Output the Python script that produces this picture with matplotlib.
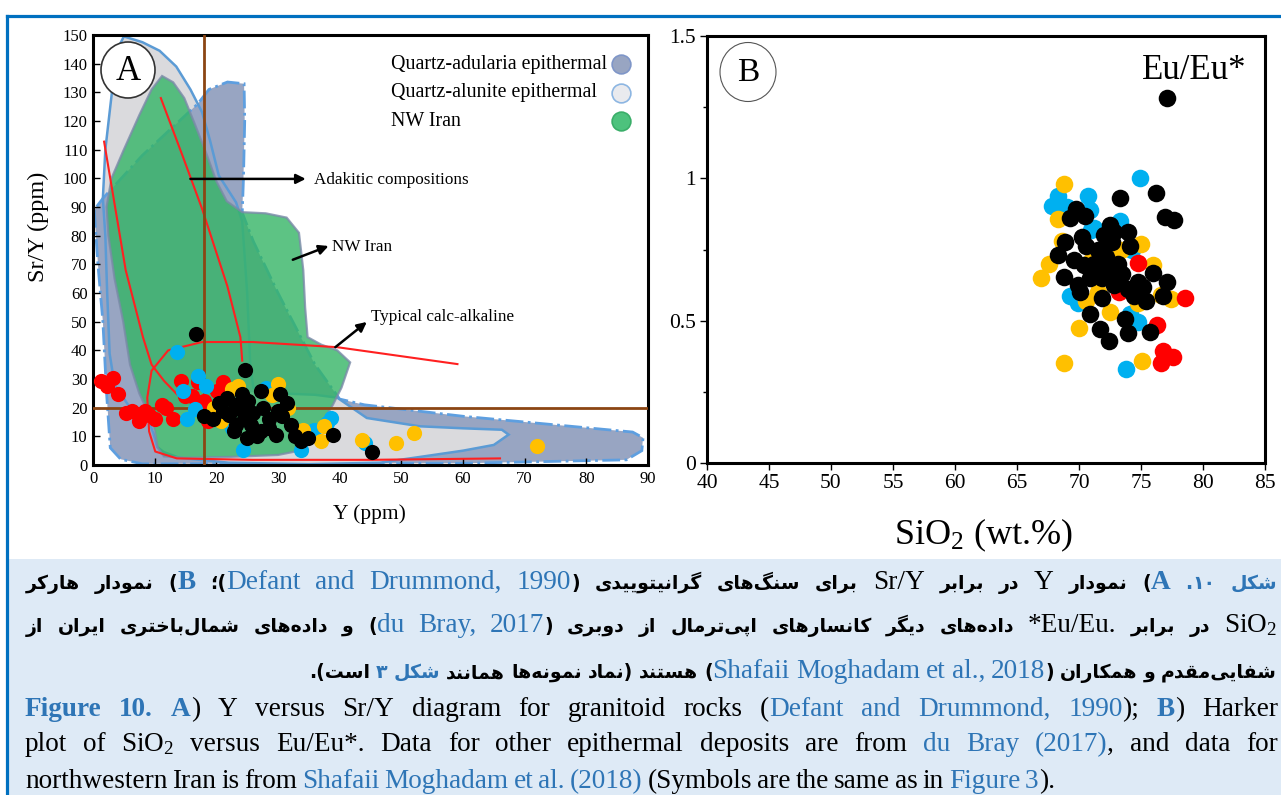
import matplotlib
matplotlib.use('Agg')
import matplotlib.pyplot as plt
from matplotlib.lines import Line2D
from matplotlib.patches import Rectangle, Ellipse
from matplotlib.ticker import MultipleLocator, FuncFormatter

W, H = 1281, 795
SERIF = 'Liberation Serif'
plt.rcParams['mathtext.fontset'] = 'custom'
plt.rcParams['mathtext.rm'] = SERIF
plt.rcParams['mathtext.it'] = SERIF + ':italic'
plt.rcParams['mathtext.bf'] = SERIF + ':bold'

# ---------------- panel A data (Y ppm, Sr/Y) ----------------
adularia_x = [0.2, 0.8, 1.6, 2.2, 2.8, 4.5, 8, 30, 60, 86.5, 89, 89.2, 87.5, 80, 70, 60, 50, 44, 40,
              36, 30, 26, 24.2, 24.4, 24.6, 24.5, 21.8, 18.8, 17, 8, 1.6]
adularia_y = [89, 70, 50, 25, 6, 2, 0.4, 0.5, 0.6, 1.8, 5, 9.5, 11.5, 13, 15, 17, 19.5, 21, 23,
              35, 60, 78, 88, 100, 120, 133, 133.6, 131, 126, 108, 93]
alunite_x = [5, 8, 10.8, 13.5, 15.8, 17.7, 19, 20.4, 23.2, 24.2, 25, 25.5, 26, 30, 36, 39.6, 44.4, 53, 60,
             66.3, 67.4, 65, 60, 53.3, 46.5, 35, 22, 14, 11.5, 10.4, 9.8, 9, 6, 3.5, 2.7, 2.3, 2.0, 1.6,
             2.0, 2.8, 3.5, 4.2]
alunite_y = [149.5, 147.5, 144.5, 139, 131, 123, 113, 101, 91.6, 85, 60, 35, 27, 25, 24.5, 23.5, 16.4, 13.5,
             12.8, 12.3, 10.6, 7, 5, 2.9, 0.8, 0.3, 0.8, 2.5, 4.5, 6.3, 11, 15.7, 20, 28, 38.8, 60, 80, 93,
             110, 125, 138, 146]
alunite_low_x = [9, 11, 15, 20, 26, 30, 36, 39.6, 44.4, 53, 60, 66.3, 67.4, 65, 60, 53.3, 46.5, 35, 22,
                 14, 11.5, 10.4, 9.8]
alunite_low_y = [15.7, 18, 20.5, 23, 25.5, 25, 24.5, 23.5, 16.4, 13.5, 12.8, 12.3, 10.6, 7, 5, 2.9, 0.8,
                 0.3, 0.8, 2.5, 4.5, 6.3, 11]
nwiran_x = [11.2, 13, 14.8, 16.5, 18.5, 20, 21.7, 24.2, 28, 31.4, 33.4, 34.1, 34.4, 34.8, 37, 39.6, 41.7,
            40.3, 38.9, 36.9, 34.5, 32.8, 30, 22, 15, 11.5, 10.5, 10, 9, 7.5, 6, 4.9, 3.5, 2.5, 2.2, 3,
            5, 7.5, 9.5]
nwiran_y = [135.7, 133.5, 128, 119, 108, 99, 92, 88.2, 87.8, 86.3, 81, 68, 55, 44.6, 42, 40, 35.8,
            27, 21, 14, 8.5, 4.7, 3.5, 2.8, 2.5, 3, 6, 12, 18, 25, 35, 50, 65, 80, 90, 100,
            110, 122, 131]

adakite_left_x = [1.8, 5.3, 8.1, 9.5, 11.5, 13.6, 15.5]
adakite_left_y = [112.8, 68, 44.6, 35, 29.4, 24.7, 22]
adakite_right_x = [11, 14.5, 17.7, 21.8, 23.9, 24.2]
adakite_right_y = [128, 108, 89.3, 62.3, 44.6, 36.4]
calc_x = [59.1, 39.6, 25.9, 17.7, 12.2, 9.5, 8.8, 9.1, 10.1, 13.6, 25.9, 45, 66]
calc_y = [35.2, 41.1, 42.9, 42.9, 40, 32.9, 23.5, 11.7, 4.7, 2.3, 1.8, 1.8, 2.3]

a_red_x = [1.23, 2.26, 3.29, 4.11, 6.37, 7.4, 8.43, 10.1, 11.2, 11.9, 12.9, 14.3, 14.9, 16.0, 17.0,
           18.0, 18.7, 21.1, 20.1, 5.3, 9.0]
a_red_y = [29.4, 27.6, 30.5, 24.9, 18.8, 15.3, 18.8, 15.9, 21.1, 20.0, 15.9, 29.4, 24.1, 24.1, 28.8,
           22.3, 15.3, 28.8, 25.8, 18.2, 17.5]
a_cyan_x = [13.7, 17.1, 18.4, 14.6, 15.3, 16.5, 24.4, 33.8, 35.8, 38.6, 44.1, 28.0, 22.5, 37.9]
a_cyan_y = [39.4, 31.1, 27.6, 25.8, 15.9, 19.4, 5.3, 5.3, 12.3, 16.4, 7.6, 27.0, 13.0, 14.5]
a_yel_x = [23.5, 30.0, 20.8, 37.4, 36.9, 43.6, 49.2, 52.0, 72.0, 34.1, 31.7, 19.7, 22.5, 29.0]
a_yel_y = [27.6, 28.2, 15.3, 13.5, 8.2, 8.8, 7.6, 11.2, 6.5, 12.3, 20.0, 20.0, 26.5, 24.5]
a_blk_x = [16.7, 24.7, 18.0, 19.4, 20.4, 21.8, 23.2, 24.2, 25.2, 22.1, 23.2, 24.5, 22.8, 24.9, 26.6,
           25.9, 27.3, 27.6, 28.6, 29.7, 30.4, 31.4, 30.7, 32.1, 32.8, 33.8, 34.8, 38.9, 45.3, 27.3,
           21.1, 23.9, 25.6, 28.6, 30.0]
a_blk_y = [45.8, 33.1, 17.0, 15.9, 21.7, 23.5, 21.1, 24.7, 22.3, 17.6, 14.1, 15.9, 11.7, 9.4, 10.0,
           18.2, 25.8, 20.0, 15.9, 10.6, 24.7, 21.7, 17.0, 14.1, 10.0, 8.2, 9.4, 10.6, 4.7, 11.7,
           18.8, 19.4, 14.1, 12.9, 18.8]

# ---------------- panel B data (SiO2, Eu/Eu*) ----------------
b_cyan_x = [74.95, 68.3, 67.82, 70.71, 70.87, 71.19, 73.28, 69.27, 69.9, 73.76, 74.72, 74.08, 74.24, 69.0, 71.0]
b_cyan_y = [1.0, 0.9375, 0.9025, 0.9375, 0.8875, 0.825, 0.85, 0.5875, 0.5625, 0.331, 0.494, 0.525, 0.75, 0.9, 0.82]
b_yel_x = [68.79, 68.3, 68.63, 67.6, 66.96, 75.04, 76.0, 77.45, 70.0, 72.48, 68.82, 75.05, 74.72, 71.5,
           73.4, 71.0, 76.6, 70.6]
b_yel_y = [0.981, 0.856, 0.781, 0.7, 0.65, 0.769, 0.694, 0.575, 0.475, 0.531, 0.35, 0.36, 0.5625, 0.6,
           0.75, 0.71, 0.59, 0.57]
b_red_x = [74.72, 78.51, 76.33, 76.81, 77.61, 76.65, 73.2]
b_red_y = [0.7025, 0.581, 0.485, 0.394, 0.371, 0.35, 0.6]
b_blk_x = [77.07, 73.34, 76.23, 76.97, 77.68, 69.27, 69.75, 70.49, 72.54, 73.92, 68.88, 70.23, 70.55,
           68.3, 74.08, 68.78, 69.59, 70.39, 69.91, 70.87, 71.51, 72.15, 72.63, 73.11, 73.43, 71.83,
           72.31, 72.8, 73.92, 74.72, 75.2, 76.0, 77.13, 76.81, 75.37, 74.4, 71.83, 70.87, 71.67,
           72.41, 73.7, 73.92, 75.75, 70.07, 71.2, 72.0, 72.8]
b_blk_y = [1.281, 0.931, 0.948, 0.8625, 0.8525, 0.86, 0.894, 0.869, 0.8375, 0.8125, 0.775, 0.794,
           0.7625, 0.731, 0.7625, 0.6525, 0.7125, 0.694, 0.625, 0.65, 0.75, 0.725, 0.775, 0.7, 0.6625,
           0.65, 0.675, 0.625, 0.6125, 0.6375, 0.619, 0.669, 0.6375, 0.5875, 0.569, 0.5875, 0.581,
           0.525, 0.469, 0.4275, 0.506, 0.456, 0.459, 0.6, 0.7, 0.8, 0.8125]

legend_labels = ['Quartz-adularia epithermal', 'Quartz-alunite epithermal', 'NW Iran']
legend_face = ['#98a5c2', '#e9eaee', '#4dc27d']
legend_edge = ['#7f96c8', '#8db6e2', '#3aae69']

RED, CYAN, YEL, BLK = '#ff0000', '#00b0f0', '#ffc000', '#000000'
BLUE = '#2e75b6'
BROWN = '#8b4513'


def fpos(x, y):
    return x / W, 1 - y / H


fig = plt.figure(figsize=(W / 100, H / 100), dpi=100)

# caption background and blue frame lines
fig.add_artist(Rectangle(fpos(8, 795), (W - 8) / W, (795 - 559) / H, transform=fig.transFigure,
                         facecolor='#deeaf6', edgecolor='none', zorder=0))
fig.add_artist(Line2D([7 / W, 1], [1 - 16 / H] * 2, transform=fig.transFigure, color='#0070c0', lw=2.3))
fig.add_artist(Line2D([7 / W] * 2, [0, 1 - 16 / H], transform=fig.transFigure, color='#0070c0', lw=2.3))

# ---------------- panel A ----------------
ax = fig.add_axes([93 / W, 1 - 465 / H, 555 / W, 430 / H])
ax.fill(alunite_x, alunite_y, facecolor='#dadadd', edgecolor='none', zorder=1)
ax.fill(adularia_x, adularia_y, facecolor='#98a5c2', edgecolor='#5e9fe0', lw=2, ls='-.', zorder=1.5)
ax.fill(alunite_low_x, alunite_low_y, facecolor='#dadadd', edgecolor='none', zorder=2)
ax.fill(alunite_x, alunite_y, facecolor='none', edgecolor='#5b9bd5', lw=1.8, zorder=2.5)
ax.fill(nwiran_x, nwiran_y, facecolor='#34b566', alpha=0.8, edgecolor='#7a8aa8', lw=1.6, zorder=3)
ax.plot(adakite_left_x, adakite_left_y, color='#ff2020', lw=1.5, zorder=4)
ax.plot(adakite_right_x, adakite_right_y, color='#ff2020', lw=1.5, zorder=4)
ax.plot(calc_x, calc_y, color='#ff2020', lw=1.5, zorder=4)
ax.axvline(18, color=BROWN, lw=2, zorder=4.5)
ax.axhline(20, color=BROWN, lw=2, zorder=4.5)

sa = 120
ax.scatter(a_red_x, a_red_y, s=sa, color=RED, lw=0, zorder=5)
ax.scatter(a_cyan_x, a_cyan_y, s=sa, color=CYAN, lw=0, zorder=5)
ax.scatter(a_yel_x, a_yel_y, s=sa, color=YEL, lw=0, zorder=5)
ax.scatter(a_blk_x, a_blk_y, s=sa, color=BLK, lw=0, zorder=5)

arrow = dict(arrowstyle='-|>', color='black', lw=1.8, mutation_scale=14, shrinkA=0, shrinkB=0)
ax.annotate('', xy=(34.5, 99.8), xytext=(15.8, 99.8), arrowprops=arrow, zorder=6)
ax.annotate('', xy=(38.2, 76.4), xytext=(32.4, 71.6), arrowprops=arrow, zorder=6)
ax.annotate('', xy=(44.4, 49.9), xytext=(39.3, 41.1), arrowprops=arrow, zorder=6)
ax.text(35.8, 99.3, 'Adakitic compositions', family=SERIF, fontsize=12.3, va='center', zorder=6)
ax.text(38.8, 76, 'NW Iran', family=SERIF, fontsize=12.3, va='center', zorder=6)
ax.text(45.1, 51.7, 'Typical calc-alkaline', family=SERIF, fontsize=12.3, va='center', zorder=6)

# legend: text left aligned, swatch on the right
for i, (lab, fc, ec) in enumerate(zip(legend_labels, legend_face, legend_edge)):
    yy = (465 - (64 + 28.5 * i)) / 430
    ax.text((391 - 93) / 555, yy, lab, transform=ax.transAxes, family=SERIF, fontsize=14.4,
            va='center', ha='left', zorder=6)
    ax.plot([(621 - 93) / 555], [yy], transform=ax.transAxes, ls='', marker='o', ms=13.5,
            mfc=fc, mec=ec, mew=1.2, zorder=6, clip_on=False)

ax.set_xlim(0, 90)
ax.set_ylim(0, 150)
ax.set_xticks(range(0, 91, 10))
ax.set_yticks(range(0, 151, 10))
ax.tick_params(direction='in', length=5, width=1, labelsize=12, pad=4)
for lab in ax.get_xticklabels() + ax.get_yticklabels():
    lab.set_family(SERIF)
for s in ax.spines.values():
    s.set_linewidth(2.2)

fig.add_artist(Ellipse(fpos(128, 70), 54 / W, 56 / H, transform=fig.transFigure, facecolor='white',
                       edgecolor='#333333', lw=1.2, zorder=5))
fig.text(*fpos(128, 71), 'A', family=SERIF, fontsize=25, ha='center', va='center', zorder=6)
fig.text(*fpos(369, 514), 'Y (ppm)', family=SERIF, fontsize=15.5, ha='center', va='center')
fig.text(*fpos(38, 227), 'Sr/Y (ppm)', family=SERIF, fontsize=17.5, ha='center', va='center', rotation=90)

# ---------------- panel B ----------------
bx = fig.add_axes([707 / W, 1 - 463 / H, 558 / W, 427 / H])
sb = 160
bx.scatter(b_cyan_x, b_cyan_y, s=sb, color=CYAN, lw=0, zorder=3)
bx.scatter(b_yel_x, b_yel_y, s=sb, color=YEL, lw=0, zorder=3)
bx.scatter(b_red_x, b_red_y, s=sb, color=RED, lw=0, zorder=3)
bx.scatter(b_blk_x, b_blk_y, s=sb, color=BLK, lw=0, zorder=3)
bx.set_xlim(40, 85)
bx.set_ylim(0, 1.5)
bx.set_xticks(range(40, 86, 5))
bx.set_yticks([0, 0.5, 1, 1.5])
bx.yaxis.set_minor_locator(MultipleLocator(0.25))
bx.yaxis.set_major_formatter(FuncFormatter(lambda v, p: f'{v:g}'))
bx.tick_params(direction='out', length=5, width=1, labelsize=15.5, pad=3)
bx.tick_params(which='minor', direction='out', length=3, width=1)
for lab in bx.get_xticklabels() + bx.get_yticklabels():
    lab.set_family(SERIF)
for s in bx.spines.values():
    s.set_linewidth(2.2)
bx.text(0.873, 0.92, 'Eu/Eu*', transform=bx.transAxes, family=SERIF, fontsize=25, ha='center', va='center')
fig.add_artist(Ellipse(fpos(748, 72), 56 / W, 59 / H, transform=fig.transFigure, facecolor='white',
                       edgecolor='#555555', lw=0.8, zorder=5))
fig.text(*fpos(748, 73), 'B', family=SERIF, fontsize=24, ha='center', va='center', zorder=6)
fig.text(*fpos(983, 535), r'SiO$_\mathrm{2}$ (wt.%)', family=SERIF, fontsize=26, ha='center', va='center')

# ---------------- caption ----------------
# minimal Persian shaping (isolated, final, initial, medial presentation forms)
FORMS = {
    0x0627: (0xFE8D, 0xFE8E, None, None), 0x0628: (0xFE8F, 0xFE90, 0xFE91, 0xFE92),
    0x067E: (0xFB56, 0xFB57, 0xFB58, 0xFB59), 0x062A: (0xFE95, 0xFE96, 0xFE97, 0xFE98),
    0x062E: (0xFEA5, 0xFEA6, 0xFEA7, 0xFEA8), 0x062F: (0xFEA9, 0xFEAA, None, None),
    0x0631: (0xFEAD, 0xFEAE, None, None), 0x0632: (0xFEAF, 0xFEB0, None, None),
    0x0633: (0xFEB1, 0xFEB2, 0xFEB3, 0xFEB4), 0x0634: (0xFEB5, 0xFEB6, 0xFEB7, 0xFEB8),
    0x0641: (0xFED1, 0xFED2, 0xFED3, 0xFED4), 0x0642: (0xFED5, 0xFED6, 0xFED7, 0xFED8),
    0x06A9: (0xFB8E, 0xFB8F, 0xFB90, 0xFB91), 0x0643: (0xFB8E, 0xFB8F, 0xFB90, 0xFB91),
    0x06AF: (0xFB92, 0xFB93, 0xFB94, 0xFB95), 0x0644: (0xFEDD, 0xFEDE, 0xFEDF, 0xFEE0),
    0x0645: (0xFEE1, 0xFEE2, 0xFEE3, 0xFEE4), 0x0646: (0xFEE5, 0xFEE6, 0xFEE7, 0xFEE8),
    0x0647: (0xFEE9, 0xFEEA, 0xFEEB, 0xFEEC), 0x0648: (0xFEED, 0xFEEE, None, None),
    0x06CC: (0xFEEF, 0xFEF0, 0xFEF3, 0xFEF4), 0x064A: (0xFEEF, 0xFEF0, 0xFEF3, 0xFEF4),
}
MIRROR = {'(': ')', ')': '('}


def shape(s):
    out = []
    for i, ch in enumerate(s):
        f = FORMS.get(ord(ch))
        if f is None:
            if ch != '\u200c':
                out.append(ch)
            continue
        prev = FORMS.get(ord(s[i - 1])) if i > 0 else None
        nxt = FORMS.get(ord(s[i + 1])) if i < len(s) - 1 else None
        jp = prev is not None and prev[2] is not None
        jn = nxt is not None and f[2] is not None
        code = f[3] if (jp and jn) else f[1] if jp else f[2] if jn else f[0]
        out.append(chr(code))
    return ''.join(out)


FA = dict(family=['DejaVu Sans'], fontweight='bold', fontsize=13.6, color='black')
FA_BL = dict(FA, color=BLUE)
EN = dict(family=SERIF, fontsize=19.6, color='black')
EN_BL = dict(EN, color=BLUE)
EN_BB = dict(EN, color=BLUE, fontweight='bold')

fa_line1 = [('شکل ', 'R', FA_BL), ('\u06f1\u06f0', 'L', FA_BL), ('. ', 'R', FA_BL), ('A', 'L', EN_BB),
            (') نمودار ', 'R', FA), ('Y', 'L', EN), (' در برابر ', 'R', FA), ('Sr/Y', 'L', EN),
            (' برای سنگ\u200cهای گرانیتوییدی (', 'R', FA), ('Defant and Drummond, 1990', 'L', EN_BL),
            (')؛ ', 'R', FA), ('B', 'L', EN_BB), (') نمودار هارکر', 'R', FA)]
fa_line2 = [('SiO$_\\mathrm{2}$', 'L', EN), (' در برابر ', 'R', FA), ('*Eu/Eu.', 'L', EN),
            (' داده\u200cهای دیگر کانسارهای اپی\u200cترمال از دوبری (', 'R', FA), ('du Bray, 2017', 'L', EN_BL),
            (') و داده\u200cهای شمال\u200cباختری ایران از', 'R', FA)]
fa_line3 = [('شفایی\u200cمقدم و همکاران (', 'R', FA), ('Shafaii Moghadam et al., 2018', 'L', EN_BL),
            (') هستند (نماد نمونه\u200cها همانند ', 'R', FA), ('شکل ', 'R', FA_BL), ('\u06f3', 'L', FA_BL),
            (' است).', 'R', FA)]
en_line1 = [('Figure 10. A', EN_BB), (') Y versus Sr/Y diagram for granitoid rocks (', EN),
            ('Defant and Drummond, 1990', EN_BL), ('); ', EN), ('B', EN_BB), (') Harker', EN)]
en_line2 = [('plot of SiO$_\\mathrm{2}$ versus Eu/Eu*. Data for other epithermal deposits are from ', EN),
            ('du Bray (2017)', EN_BL), (', and data for', EN)]
en_line3 = [('northwestern Iran is from ', EN), ('Shafaii Moghadam et al. (2018)', EN_BL),
            (' (Symbols are the same as in ', EN), ('Figure 3', EN_BL), (').', EN)]


def rtl_visual(segs):
    vis = []
    for txt, kind, st in reversed(segs):
        if kind == 'R':
            txt = ''.join(MIRROR.get(c, c) for c in reversed(shape(txt)))
        vis.append((txt, st))
    return vis


def to_words(pieces):
    words = [[]]
    for txt, st in pieces:
        for i, part in enumerate(txt.split(' ')):
            if i > 0:
                words.append([])
            if part:
                words[-1].append(fig.text(0, 0, part, va='baseline', ha='left', **st))
    return [w for w in words if w]


renderer = fig.canvas.get_renderer()


def width(t):
    return t.get_window_extent(renderer).width


def place(pieces, base, mode, x0=25, x1=1277, space=None):
    words = to_words(pieces)
    ws = [[width(t) for t in w] for w in words]
    total = sum(sum(w) for w in ws)
    gap = (x1 - x0 - total) / (len(words) - 1) if mode == 'justify' else space
    x = x1 - total - gap * (len(words) - 1) if mode == 'right' else x0
    for w, wl in zip(words, ws):
        xx = x
        for t, tw in zip(w, wl):
            t.set_position(fpos(xx, base))
            xx += tw
        x = xx + gap


place(rtl_visual(fa_line1), 589, 'justify', 26, 1277)
place(rtl_visual(fa_line2), 632, 'justify', 26, 1277)
place(rtl_visual(fa_line3), 678, 'right', 26, 1277, space=6)
place(en_line1, 716, 'justify', 25, 1278)
place(en_line2, 751, 'justify', 25, 1278)
place(en_line3, 788, 'left', 25, 1278, space=5)

fig.savefig('out.png', dpi=100)
